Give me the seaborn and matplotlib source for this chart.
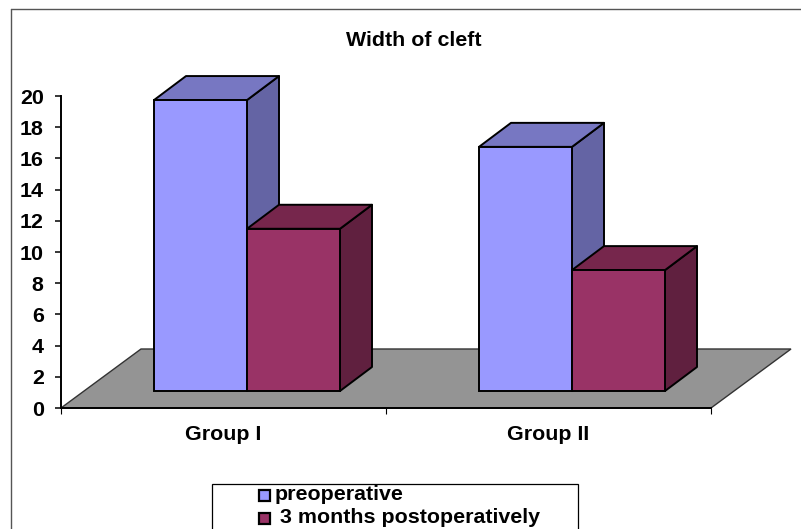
import matplotlib
matplotlib.use("Agg")
import matplotlib.pyplot as plt
from matplotlib.lines import Line2D
from matplotlib.patches import Polygon, Rectangle
import pandas as pd
import seaborn as sns

groups = ["Group I", "Group II"]
series_names = ["preoperative", "3 months postoperatively"]
preoperative = [18.65, 15.65]
postoperative = [10.4, 7.75]
y_ticks = list(range(0, 21, 2))

FRONT = {"preoperative": "#9999FF", "3 months postoperatively": "#993366"}
TOP = {"preoperative": "#7777C2", "3 months postoperatively": "#76264C"}
SIDE = {"preoperative": "#6464A4", "3 months postoperatively": "#60203F"}
FLOOR = "#949494"

W, H = 801, 529
LEFT, RIGHT, BASE, TOPY = 61, 711, 408, 96
EDGE_LW = 1.4
FONT_SIZE = 15.4

sns.set_theme(style="white")
plt.rcParams["font.family"] = ["Liberation Sans", "DejaVu Sans"]
plt.rcParams["font.weight"] = "bold"

fig = plt.figure(figsize=(W / 100, H / 100), dpi=100, facecolor="white")
ax = fig.add_axes([LEFT / W, 1 - BASE / H, (RIGHT - LEFT) / W, (BASE - TOPY) / H])
ax.patch.set_alpha(0)

df = pd.DataFrame({
    "group": groups * 2,
    "series": [series_names[0]] * 2 + [series_names[1]] * 2,
    "value": preoperative + postoperative,
})

# Oblique projection offsets, in category and value units
depth_x = 80 / 325
depth_y = 59 / 15.6
bar_front_x = 23.5 / 325
bar_front_y = 17 / 15.6
bar_dx = 32 / 325
bar_dy = 24 / 15.6
bar_width = 93 / 325

sns.barplot(data=df, x="group", y="value", hue="series", order=groups,
            hue_order=series_names, palette=FRONT, width=2 * bar_width, gap=0,
            saturation=1, edgecolor="black", linewidth=EDGE_LW, legend=False,
            bottom=bar_front_y, ax=ax, zorder=5)

ax.set_xlim(-0.5, 1.5)
ax.set_ylim(0, 20)

# Shift the front faces back along the depth axis and add their side and top faces
for cat in [0, 1]:
    for container, name in zip(ax.containers, series_names):
        bar = container[cat]
        bar.set_x(bar.get_x() + bar_front_x)
        bar.set_clip_on(False)
        x0, x1 = bar.get_x(), bar.get_x() + bar.get_width()
        y0, y1 = bar.get_y(), bar.get_y() + bar.get_height()
        z = 3 if name == series_names[0] else 4
        ax.add_patch(Polygon([(x1, y0), (x1 + bar_dx, y0 + bar_dy), (x1 + bar_dx, y1 + bar_dy), (x1, y1)],
                             facecolor=SIDE[name], edgecolor="black", lw=EDGE_LW, zorder=z,
                             joinstyle="round", clip_on=False))
        ax.add_patch(Polygon([(x0, y1), (x1, y1), (x1 + bar_dx, y1 + bar_dy), (x0 + bar_dx, y1 + bar_dy)],
                             facecolor=TOP[name], edgecolor="black", lw=EDGE_LW, zorder=z,
                             joinstyle="round", clip_on=False))

# Floor plane
ax.add_patch(Polygon([(-0.5, 0), (1.5, 0), (1.5 + depth_x, depth_y), (-0.5 + depth_x, depth_y)],
                     facecolor=FLOOR, edgecolor="#333333", lw=1.0, zorder=1, clip_on=False))

for s in ["top", "right"]:
    ax.spines[s].set_visible(False)
for s in ["left", "bottom"]:
    ax.spines[s].set_linewidth(EDGE_LW)
    ax.spines[s].set_color("black")
    ax.spines[s].set_zorder(6)

ax.set_yticks(y_ticks)
ax.set_xticks([-0.5, 0.5, 1.5], minor=False, labels=["", "", ""])
ax.tick_params(axis="y", left=True, length=4.5, width=1.1, color="black", pad=8,
               labelsize=FONT_SIZE, labelcolor="black")
ax.tick_params(axis="x", bottom=True, length=4, width=0.8, color="black", pad=0)
ax.set_xlabel("")
ax.set_ylabel("")
for i, g in enumerate(groups):
    ax.annotate(g, (i, 0), xytext=(0, -26), xycoords="data", textcoords="offset pixels",
                ha="center", va="center", fontsize=FONT_SIZE, fontweight="bold", color="black")

fig.text(414 / W, 1 - 40 / H, "Width of cleft", ha="center", va="center",
         fontsize=FONT_SIZE, fontweight="bold", color="black")

# Chart frame: only the top and left edges fall inside the figure
fig.add_artist(Line2D([10.5 / W, 10.5 / W], [0, 1 - 8.5 / H], transform=fig.transFigure, color="#555555", lw=1.0))
fig.add_artist(Line2D([10.5 / W, 1], [1 - 8.5 / H, 1 - 8.5 / H], transform=fig.transFigure, color="#555555", lw=1.0))

# Legend box with its swatches
fig.add_artist(Rectangle((212.5 / W, -0.05), 365 / W, 1 - 483.5 / H + 0.05, transform=fig.transFigure,
                         facecolor="white", edgecolor="black", lw=0.9, zorder=2))
for name, yc, lx in zip(series_names, [495, 518], [275, 280]):
    fig.add_artist(Rectangle((259 / W, 1 - (yc + 5.5) / H), 11 / W, 11 / H, transform=fig.transFigure,
                             facecolor=FRONT[name], edgecolor="black", lw=1.6, zorder=3))
    fig.text(lx / W, 1 - (yc - 0.5) / H, name, ha="left", va="center", fontsize=FONT_SIZE, fontweight="bold",
             color="black", zorder=3)

fig.savefig("out.png", dpi=100)
